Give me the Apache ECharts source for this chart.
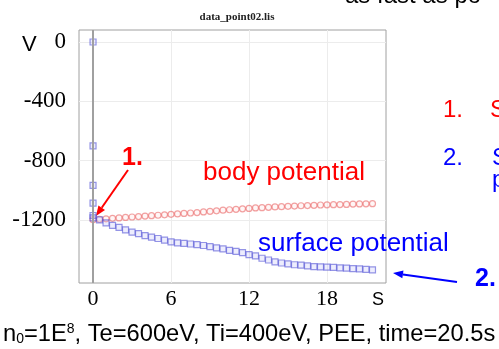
<!DOCTYPE html>
<html>
<head>
<meta charset="utf-8">
<script src="https://cdn.jsdelivr.net/npm/echarts@6/dist/echarts.min.js"></script>
<style>
  html, body { margin: 0; padding: 0; background: #fff; overflow: hidden; }
  #chart { width: 499px; height: 349px; }
</style>
</head>
<body>
<div id="chart"></div>
<script>
// time (s)
const times = [
  0, 0.5, 1, 1.5, 2, 2.5, 3, 3.5, 4, 4.5,
  5, 5.5, 6, 6.5, 7, 7.5, 8, 8.5, 9, 9.5,
  10, 10.5, 11, 11.5, 12, 12.5, 13, 13.5, 14, 14.5,
  15, 15.5, 16, 16.5, 17, 17.5, 18, 18.5, 19, 19.5,
  20, 20.5, 21, 21.5
]
// first samples of the surface potential, all at t = 0
const surfaceStartValues = [0, -700, -967, -1087, -1170]
// surface potential (V)
const surfaceValues = [
  -1186, -1200, -1220, -1237, -1250, -1267, -1282, -1292, -1305, -1316,
  -1325, -1336, -1348, -1354, -1358, -1362, -1366, -1372, -1380, -1388,
  -1395, -1405, -1412, -1420, -1433, -1442, -1458, -1470, -1482, -1490,
  -1496, -1502, -1505, -1510, -1514, -1516, -1518, -1520, -1523, -1525,
  -1528, -1530, -1533, -1536
]
// body potential (V)
const bodyValues = [
  -1198, -1195, -1192, -1189, -1186, -1183, -1180, -1177, -1174, -1171,
  -1168, -1165, -1162, -1159, -1156, -1153, -1150, -1146, -1142, -1138,
  -1134, -1131, -1128, -1125, -1122, -1119, -1117, -1115, -1112, -1110,
  -1108, -1106, -1104, -1103, -1101, -1099, -1098, -1097, -1096, -1095,
  -1093, -1092, -1091, -1090
]
const xTicks = [0, 6, 12, 18]
const yTicks = [0, -400, -800, -1200]

const SANS = 'Liberation Sans, Arial, sans-serif'
const SERIF = 'Liberation Serif, Times New Roman, serif'

// line with a filled arrow head at (x2, y2)
function arrow(x1, y1, x2, y2, color) {
  const a = Math.atan2(y2 - y1, x2 - x1)
  const len = 10, half = 4
  const bx = x2 - len * Math.cos(a), by = y2 - len * Math.sin(a)
  const nx = -Math.sin(a) * half, ny = Math.cos(a) * half
  return {
    type: 'group',
    z: 100,
    children: [
      { type: 'line', shape: { x1, y1, x2: bx, y2: by }, style: { stroke: color, lineWidth: 2 } },
      { type: 'polygon', shape: { points: [[x2, y2], [bx + nx, by + ny], [bx - nx, by - ny]] }, style: { fill: color } }
    ]
  }
}

function label(text, x, y, font, fill) {
  return {
    type: 'text', x, y, z: 100,
    style: { text, font, fill, verticalAlign: 'middle', textAlign: 'left' }
  }
}

const chart = echarts.init(document.getElementById('chart'))

const surfaceData = surfaceStartValues.map(v => [0, v])
  .concat(times.map((t, i) => [t, surfaceValues[i]]))
const bodyData = times.map((t, i) => [t, bodyValues[i]])

chart.setOption({
  animation: false,
  backgroundColor: '#fff',
  title: {
    text: 'data_point02.lis',
    left: 232,
    top: 7,
    textAlign: 'center',
    textStyle: { fontFamily: SERIF, fontWeight: 'bold', fontSize: 11, color: '#222' }
  },
  grid: {
    left: 79, top: 30, right: 113, bottom: 66,
    show: true, borderColor: '#a0a0a0', borderWidth: 1
  },
  xAxis: {
    type: 'value',
    min: -1.08,
    max: 22.54,
    axisLine: { show: false },
    axisTick: { show: false, customValues: xTicks },
    axisLabel: { customValues: xTicks, formatter: v => String(v), fontFamily: SERIF, fontSize: 22, color: '#000', margin: 5 },
    splitLine: { show: true, lineStyle: { color: '#ececec', width: 1 } }
  },
  yAxis: {
    type: 'value',
    min: -1625,
    max: 81,
    axisLine: { show: false },
    axisTick: { show: false, customValues: yTicks },
    axisLabel: { customValues: yTicks, formatter: v => String(v), fontFamily: SERIF, fontSize: 23, color: '#000', margin: 13 },
    splitLine: { show: true, lineStyle: { color: '#ececec', width: 1 } }
  },
  series: [
    {
      name: 'body potential',
      type: 'scatter',
      symbol: 'circle',
      symbolSize: 6,
      data: bodyData,
      itemStyle: { color: 'rgba(255,220,220,0.3)', borderColor: 'rgba(232,90,90,0.7)', borderWidth: 1.2 }
    },
    {
      name: 'surface potential',
      type: 'scatter',
      symbol: 'rect',
      symbolSize: 6,
      data: surfaceData,
      itemStyle: { color: 'rgba(180,180,245,0.3)', borderColor: 'rgba(70,70,210,0.7)', borderWidth: 1.2 },
      markLine: {
        silent: true,
        symbol: 'none',
        label: { show: false },
        lineStyle: { color: '#a0a0a0', width: 2, type: 'solid' },
        data: [{ xAxis: 0 }]
      }
    }
  ],
  graphic: [
    label('V', 22, 45, '22px ' + SANS, '#000'),
    label('S', 372, 300, '18px ' + SANS, '#000'),
    label('as fast as po', 345, -4, '24px ' + SANS, '#000'),
    label('body potential', 203, 173, '26px ' + SANS, '#ff0000'),
    label('surface potential', 258, 244, '26px ' + SANS, '#0000ff'),
    label('1.', 122, 158, 'bold 25px ' + SANS, '#ff0000'),
    label('2.', 475, 279, 'bold 25px ' + SANS, '#0000ff'),
    label('1.', 443, 110, '24px ' + SANS, '#ff0000'),
    label('S', 490, 110, '24px ' + SANS, '#ff0000'),
    label('2.', 443, 158, '24px ' + SANS, '#0000ff'),
    label('S', 492, 158, '24px ' + SANS, '#0000ff'),
    label('p', 492, 180, '24px ' + SANS, '#0000ff'),
    {
      type: 'text', x: 3, y: 334, z: 100,
      style: {
        text: 'n{sub|0}=1E{sup|8}, Te=600eV, Ti=400eV, PEE, time=20.5s',
        font: '23.7px ' + SANS,
        fill: '#000',
        verticalAlign: 'middle',
        rich: {
          sub: { fontSize: 14, fontFamily: SANS, fill: '#000', verticalAlign: 'bottom', lineHeight: 10 },
          sup: { fontSize: 14, fontFamily: SANS, fill: '#000', verticalAlign: 'top', lineHeight: 10 }
        }
      }
    },
    arrow(128, 170, 96, 216, '#ff0000'),
    arrow(457, 282, 393, 273, '#0000ff')
  ]
})
</script>
</body>
</html>
